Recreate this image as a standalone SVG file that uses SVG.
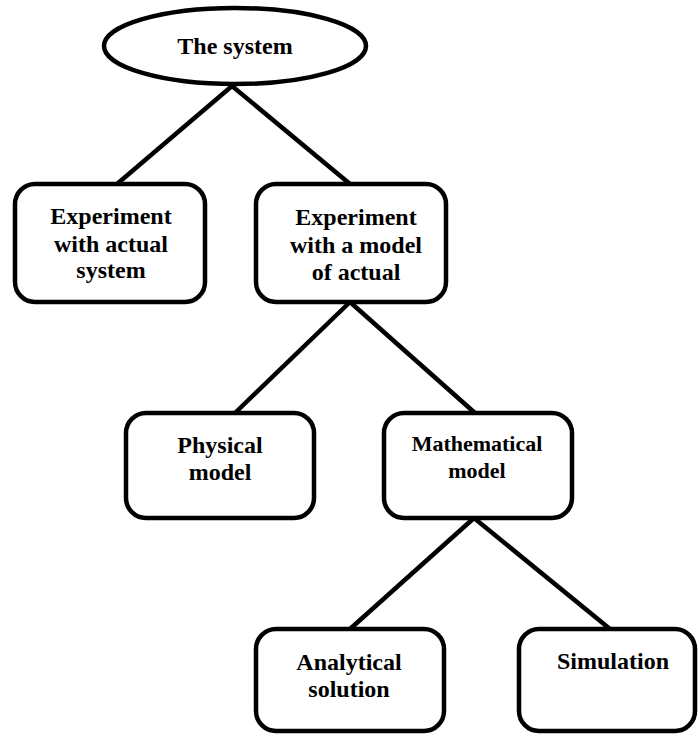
<svg xmlns="http://www.w3.org/2000/svg" width="698" height="734" viewBox="0 0 698 734">
  <style>
    .shape { fill: #fff; stroke: #000; stroke-width: 4.5; }
    .link { stroke: #000; stroke-width: 4.5; fill: none; stroke-linecap: butt; }
    .label { font-family: "Liberation Serif", "Times New Roman", serif; font-weight: bold; font-size: 24px; fill: #000; text-anchor: middle; }
    .small { font-size: 22px; }
  </style>
  <rect width="698" height="734" fill="#fff"/>

  <!-- connectors -->
  <g id="connectors">
    <line class="link" x1="232" y1="86" x2="117" y2="184"/>
    <line class="link" x1="232" y1="86" x2="350" y2="184"/>
    <line class="link" x1="350" y1="302" x2="235" y2="413"/>
    <line class="link" x1="350" y1="302" x2="475" y2="413"/>
    <line class="link" x1="474" y1="518" x2="350" y2="629"/>
    <line class="link" x1="474" y1="518" x2="610" y2="629"/>
  </g>

  <g id="system">
    <ellipse class="shape" cx="235" cy="46" rx="131" ry="38"/>
    <text class="label" x="235" y="54">The system</text>
  </g>

  <g id="actual-experiment">
    <rect class="shape" x="15" y="184" width="190" height="118" rx="20"/>
    <text class="label" x="111" y="224">Experiment</text>
    <text class="label" x="111" y="252">with actual</text>
    <text class="label" x="111" y="278">system</text>
  </g>

  <g id="model-experiment">
    <rect class="shape" x="256" y="184" width="190" height="118" rx="20"/>
    <text class="label" x="356" y="225">Experiment</text>
    <text class="label" x="356" y="253">with a model</text>
    <text class="label" x="356" y="280">of actual</text>
  </g>

  <g id="physical-model">
    <rect class="shape" x="126" y="413" width="188" height="105" rx="20"/>
    <text class="label" x="220" y="453">Physical</text>
    <text class="label" x="220" y="480">model</text>
  </g>

  <g id="mathematical-model">
    <rect class="shape" x="384" y="413" width="188" height="105" rx="20"/>
    <text class="label small" x="477" y="451">Mathematical</text>
    <text class="label small" x="477" y="478">model</text>
  </g>

  <g id="analytical-solution">
    <rect class="shape" x="256" y="629" width="188" height="102" rx="20"/>
    <text class="label" x="349" y="670">Analytical</text>
    <text class="label" x="349" y="697">solution</text>
  </g>

  <g id="simulation">
    <rect class="shape" x="519" y="629" width="176" height="102" rx="20"/>
    <text class="label" x="613" y="669">Simulation</text>
  </g>
</svg>
